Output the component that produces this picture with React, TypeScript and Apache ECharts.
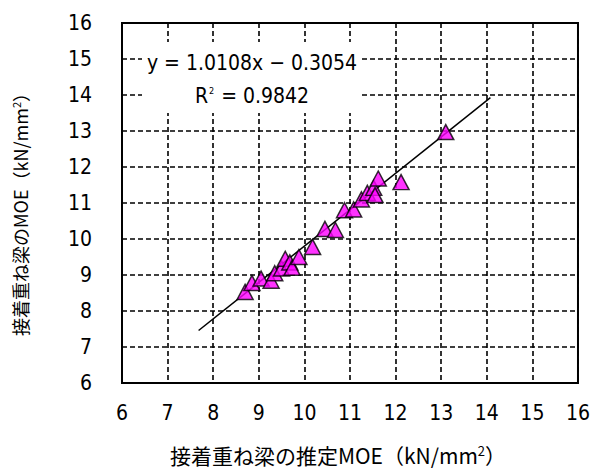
import React, { useEffect, useRef } from "react";
import * as echarts from "echarts";

// Estimated vs measured MOE of glued laminated beams (kN/mm²)
const estimatedMOE = [8.7, 8.85, 9.05, 9.27, 9.35, 9.5, 9.58, 9.68, 9.73, 9.88, 10.18, 10.45, 10.68, 10.88, 11.08, 11.25, 11.38, 11.52, 11.55, 11.62, 12.12, 13.1];
const measuredMOE = [8.53, 8.78, 8.9, 8.84, 9.05, 9.18, 9.45, 9.35, 9.2, 9.5, 9.78, 10.28, 10.25, 10.8, 10.82, 11.1, 11.28, 11.42, 11.22, 11.68, 11.58, 12.97];

// Linear fit shown on the chart
const slope = 1.0108;
const intercept = -0.3054;
const rSquared = 0.9842;
const fitRange = [7.68, 14.08];

const axisTicks = [6, 7, 8, 9, 10, 11, 12, 13, 14, 15, 16];

const NUM_FONT = "'Liberation Sans Narrow', 'DejaVu Sans Condensed', 'Liberation Sans', sans-serif";
const JP_FONT = "'Noto Sans CJK JP', sans-serif";

export default function App() {
  const ref = useRef<HTMLDivElement>(null);

  useEffect(() => {
    if (!ref.current) return;
    const chart = echarts.init(ref.current, undefined, { renderer: "svg" });
    const points = estimatedMOE.map((x, i) => [x, measuredMOE[i]]);
    const fitLine = fitRange.map((x) => [x, slope * x + intercept]);

    const dashed = { type: [5, 3] as number[], color: "#000", width: 1.6 };

    chart.setOption({
      animation: false,
      backgroundColor: "#fff",
      grid: {
        left: 122,
        right: 12,
        top: 23,
        bottom: 93,
        show: true,
        borderColor: "#000",
        borderWidth: 2,
        backgroundColor: "transparent",
      },
      xAxis: {
        type: "value",
        min: axisTicks[0],
        max: axisTicks[axisTicks.length - 1],
        interval: 1,
        axisLine: { show: false },
        axisTick: { show: false },
        splitLine: { show: true, lineStyle: dashed },
        axisLabel: { fontSize: 21, color: "#000", margin: 19, fontFamily: NUM_FONT },
      },
      yAxis: {
        type: "value",
        min: axisTicks[0],
        max: axisTicks[axisTicks.length - 1],
        interval: 1,
        axisLine: { show: false },
        axisTick: { show: false },
        splitLine: { show: true, lineStyle: dashed },
        axisLabel: { fontSize: 21, color: "#000", margin: 30, fontFamily: NUM_FONT },
      },
      series: [
        {
          type: "line",
          data: fitLine,
          showSymbol: false,
          symbol: "none",
          lineStyle: { color: "#000", width: 1.5 },
          z: 3,
        },
        {
          type: "scatter",
          data: points,
          symbol: "triangle",
          symbolSize: [16, 15],
          itemStyle: { color: "#ff00ff", borderColor: "#000", borderWidth: 1.5 },
          z: 4,
        },
      ],
      graphic: [
        {
          type: "rect",
          shape: { x: 142, y: 42, width: 218, height: 71 },
          style: { fill: "#fff" },
          z: 10,
        },
        {
          type: "text",
          x: 252,
          y: 63,
          style: {
            text: `y = ${slope.toFixed(4)}x − ${Math.abs(intercept).toFixed(4)}`,
            font: `21px ${NUM_FONT}`,
            fill: "#000",
            align: "center",
            verticalAlign: "middle",
          },
          z: 11,
        },
        {
          type: "text",
          x: 252,
          y: 96,
          style: {
            text: `{r|R}{s|2}{r| = ${rSquared.toFixed(4)}}`,
            align: "center",
            verticalAlign: "middle",
            rich: {
              r: { font: `21px ${NUM_FONT}`, fill: "#000" },
              s: { font: `9px ${NUM_FONT}`, fill: "#000", padding: [0, 1, 10, 1] },
            },
          },
          z: 11,
        },
        {
          type: "text",
          x: 338,
          y: 455,
          style: {
            text: "{t|接着重ね梁の推定MOE（kN/mm}{s|2}{t|）}",
            align: "center",
            verticalAlign: "middle",
            rich: {
              t: { font: `21px ${JP_FONT}`, fill: "#000" },
              s: { font: `13px ${JP_FONT}`, fill: "#000", padding: [0, 0, 10, 0] },
            },
          },
        },
        {
          type: "text",
          x: 20,
          y: 210,
          rotation: Math.PI / 2,
          style: {
            text: "{t|接着重ね梁のMOE（kN/mm}{s|2}{t|）}",
            align: "center",
            verticalAlign: "middle",
            rich: {
              t: { font: `18px ${JP_FONT}`, fill: "#000" },
              s: { font: `11px ${JP_FONT}`, fill: "#000", padding: [0, 0, 8, 0] },
            },
          },
        },
      ],
    });

    return () => chart.dispose();
  }, []);

  return (
    <div
      ref={ref}
      style={{ position: "absolute", left: 0, top: 0, width: 593, height: 476 }}
    />
  );
}
